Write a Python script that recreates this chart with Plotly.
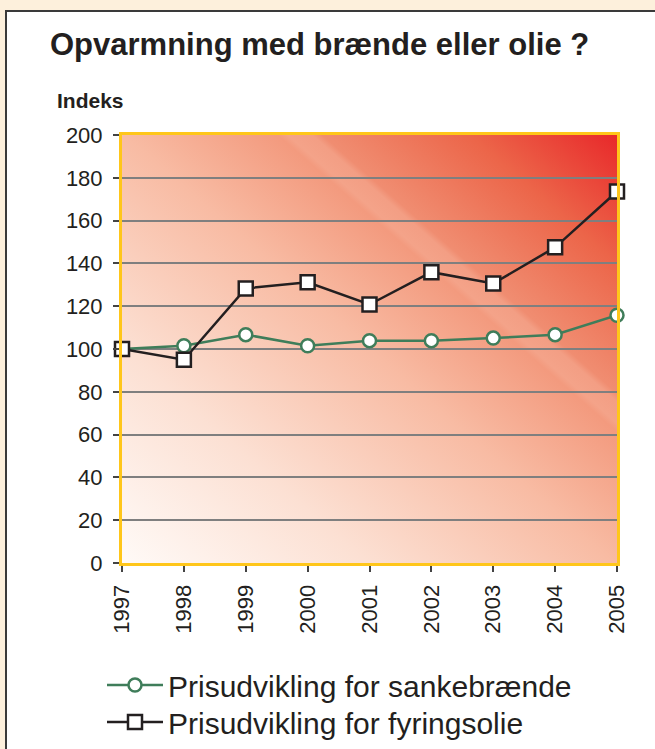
import plotly.graph_objects as go
import urllib.parse

years = ["1997", "1998", "1999", "2000", "2001", "2002", "2003", "2004", "2005"]
sankebraende = [100, 101.5, 106.7, 101.5, 103.9, 103.9, 105.1, 106.7, 115.8]
fyringsolie = [100, 95, 128.3, 131.2, 120.8, 135.9, 130.6, 147.5, 173.6]
y_ticks = [0, 20, 40, 60, 80, 100, 120, 140, 160, 180, 200]

title_text = "Opvarmning med brænde eller olie ?"
y_title = "Indeks"
name_wood = "Prisudvikling for sankebrænde"
name_oil = "Prisudvikling for fyringsolie"

W, H = 655, 749
L, R, T, B = 122, 617, 135, 563
pw, ph = R - L, B - T


def px(x):
    return (x - L) / pw


def py(y):
    return (B - y) / ph


# background gradient for plot area
svg = f'''<svg xmlns="http://www.w3.org/2000/svg" width="{pw}" height="{ph}" viewBox="0 0 {pw} {ph}" preserveAspectRatio="none">
<defs><linearGradient id="g" gradientUnits="userSpaceOnUse" x1="0" y1="{ph}" x2="{0.659*648:.1f}" y2="{ph-0.753*648:.1f}">
<stop offset="0" stop-color="#FFFAF7"/>
<stop offset="0.25" stop-color="#FCE0D3"/>
<stop offset="0.5" stop-color="#F8BBA3"/>
<stop offset="0.655" stop-color="#F39A7E"/>
<stop offset="0.665" stop-color="#F4A389"/>
<stop offset="0.69" stop-color="#F39E84"/>
<stop offset="0.70" stop-color="#F08D71"/>
<stop offset="0.85" stop-color="#EC6549"/>
<stop offset="1" stop-color="#E8282A"/>
</linearGradient></defs>
<rect x="0" y="0" width="{pw}" height="{ph}" fill="url(#g)"/>
</svg>'''
svg_uri = "data:image/svg+xml;charset=utf-8," + urllib.parse.quote(svg)

green = "#3F7D5A"
dark = "#231F20"
cream = "#FDF0DC"
font = "Liberation Sans, Arial, sans-serif"

fig = go.Figure()
fig.add_trace(go.Scatter(
    x=years, y=sankebraende, name=name_wood, mode="lines+markers",
    line=dict(color=green, width=2.5),
    marker=dict(symbol="circle", size=13, color="white", line=dict(color=green, width=2.5)),
    legend="legend", cliponaxis=False,
))
fig.add_trace(go.Scatter(
    x=years, y=fyringsolie, name=name_oil, mode="lines+markers",
    line=dict(color=dark, width=2.5),
    marker=dict(symbol="square", size=14, color="white", line=dict(color=dark, width=2.5)),
    legend="legend2", cliponaxis=False,
))

fig.add_layout_image(dict(
    source=svg_uri, xref="paper", yref="paper", x=0, y=1, sizex=1, sizey=1,
    sizing="stretch", layer="below", xanchor="left", yanchor="top",
))

# cream surround and dark frame lines (outside the plot area)
fig.add_shape(type="rect", xref="paper", yref="paper",
              x0=px(-20), x1=px(700), y0=py(10), y1=py(-20),
              fillcolor=cream, line=dict(width=0), layer="below")
fig.add_shape(type="rect", xref="paper", yref="paper",
              x0=px(-20), x1=px(5), y0=py(800), y1=py(-20),
              fillcolor=cream, line=dict(width=0), layer="below")
fig.add_shape(type="line", xref="paper", yref="paper",
              x0=px(5), x1=px(700), y0=py(11), y1=py(11),
              line=dict(color="#3A3A3A", width=2), layer="above")
fig.add_shape(type="line", xref="paper", yref="paper",
              x0=px(6), x1=px(6), y0=py(10), y1=py(800),
              line=dict(color="#3A3A3A", width=2), layer="above")

fig.add_annotation(text=f"<b>{title_text}</b>", xref="paper", yref="paper",
                   x=px(48), y=py(44), xanchor="left", yanchor="middle",
                   showarrow=False, font=dict(family=font, size=31, color=dark))
fig.add_annotation(text=f"<b>{y_title}</b>", xref="paper", yref="paper",
                   x=px(55), y=py(101), xanchor="left", yanchor="middle",
                   showarrow=False, font=dict(family=font, size=21, color=dark))

gold = "#FFC61A"
fig.update_xaxes(
    type="category", range=[0, 8], showgrid=False, zeroline=False,
    showline=True, linecolor=gold, linewidth=3, mirror=True,
    ticks="outside", ticklen=6, tickcolor="#444444", tickwidth=1.5,
    tickangle=-90, tickfont=dict(family=font, size=22, color=dark),
    ticklabelstandoff=4, automargin=False,
)
fig.update_yaxes(
    range=[0, 200], tickvals=y_ticks, showgrid=True, gridcolor="#7F7F7F", gridwidth=1.5,
    zeroline=False, showline=True, linecolor=gold, linewidth=3, mirror=True,
    ticks="outside", ticklen=6, tickcolor="#444444", tickwidth=1.5,
    tickfont=dict(family=font, size=22, color=dark),
    ticklabelstandoff=6, automargin=False,
)

leg_common = dict(
    xanchor="left", yanchor="middle", orientation="v",
    bgcolor="rgba(0,0,0,0)", font=dict(family=font, size=30, color=dark),
    itemwidth=56,
)

fig.update_layout(
    width=W, height=H, autosize=False,
    margin=dict(l=L, r=W - R, t=T, b=H - B, pad=0, autoexpand=False),
    paper_bgcolor="white", plot_bgcolor="rgba(0,0,0,0)",
    showlegend=True,
    legend=dict(x=px(102), y=py(685), **leg_common),
    legend2=dict(x=px(102), y=py(722), **leg_common),
)

fig.write_html("out.html", config={"displayModeBar": False},
               post_script="document.body.style.margin='0';document.body.style.overflow='hidden';")
